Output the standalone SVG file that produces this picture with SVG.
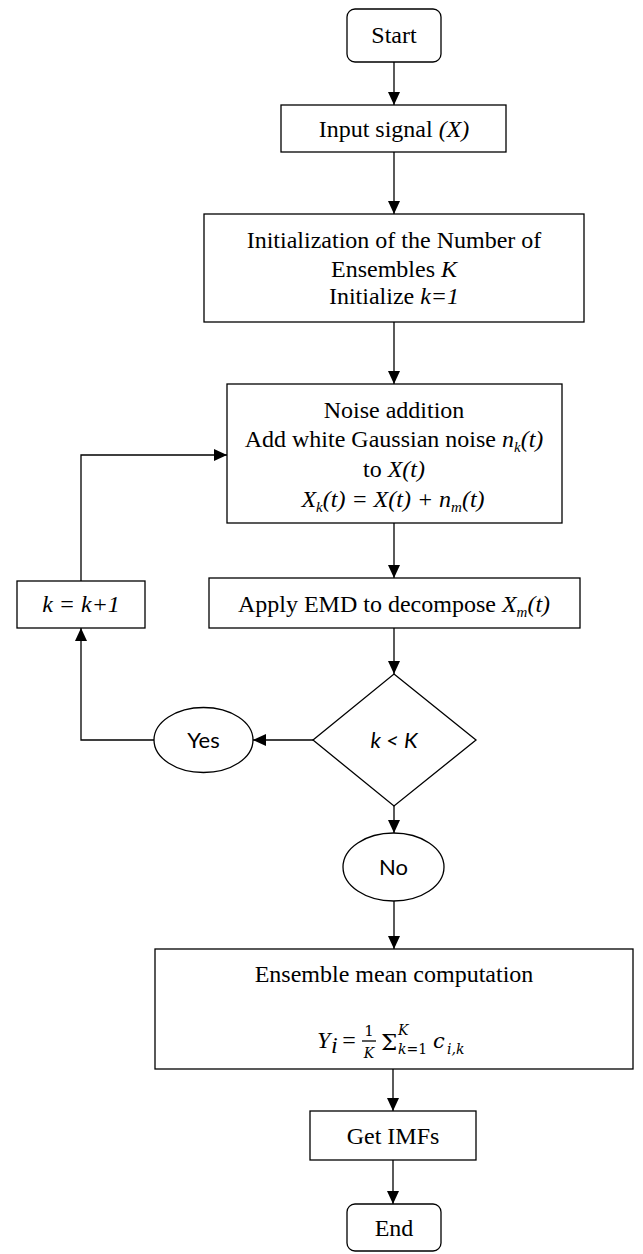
<svg xmlns="http://www.w3.org/2000/svg" width="643" height="1254" viewBox="0 0 643 1254">
<style>
.box{fill:#fff;stroke:#000;stroke-width:1.3}
.ser{font-family:"Liberation Serif","Times New Roman",serif;font-size:24px;fill:#000}
.it{font-style:italic}
.sans{font-family:Lato,"Open Sans","Liberation Sans",sans-serif;font-size:22px;fill:#000}
.mth{font-family:"DejaVu Serif","Liberation Serif",serif;fill:#000}
.con{fill:none;stroke:#000;stroke-width:1.3;marker-end:url(#ah)}
</style>
<defs>
<marker id="ah" markerUnits="userSpaceOnUse" markerWidth="13" markerHeight="12" viewBox="0 0 13 12" refX="13" refY="6" orient="auto">
<path d="M0,0 L13,6 L0,12 z" fill="#000"/>
</marker>
</defs>
<rect width="643" height="1254" fill="#fff"/>
<g id="connectors">
<path class="con" d="M394,62 V105"/>
<path class="con" d="M394,152 V214"/>
<path class="con" d="M394,322 V384"/>
<path class="con" d="M394,523 V578"/>
<path class="con" d="M394,628 V674"/>
<path class="con" d="M313,740 H253"/>
<path class="con" d="M154,740 H81 V628"/>
<path class="con" d="M81,581 V455 H227"/>
<path class="con" d="M394,806 V833"/>
<path class="con" d="M394,901 V949"/>
<path class="con" d="M393,1069 V1111"/>
<path class="con" d="M393,1160 V1204"/>
</g>
<g id="start">
<rect class="box" x="347" y="9" width="94" height="53" rx="8"/>
<text class="ser" x="394" y="43" text-anchor="middle">Start</text>
</g>
<g id="input">
<rect class="box" x="281" y="105" width="225" height="47"/>
<text class="ser" x="394" y="137" text-anchor="middle">Input signal <tspan class="it">(X)</tspan></text>
</g>
<g id="init">
<rect class="box" x="204" y="214" width="380" height="108"/>
<text class="ser" x="394" y="248" text-anchor="middle">Initialization of the Number of</text>
<text class="ser" x="394" y="277" text-anchor="middle">Ensembles <tspan class="it">K</tspan></text>
<text class="ser" x="394" y="304" text-anchor="middle">Initialize <tspan class="it">k=1</tspan></text>
</g>
<g id="noise">
<rect class="box" x="227" y="384" width="335" height="139"/>
<text class="ser" x="394" y="418" text-anchor="middle">Noise addition</text>
<text class="ser" x="394" y="447" text-anchor="middle">Add white Gaussian noise <tspan class="it">n</tspan><tspan class="it" font-size="15" dy="5">k</tspan><tspan class="it" dy="-5">(t)</tspan></text>
<text class="ser" x="394" y="477" text-anchor="middle">to <tspan class="it">X(t)</tspan></text>
<text class="ser it" x="393" y="507" text-anchor="middle">X<tspan font-size="15" dy="5">k</tspan><tspan dy="-5">(t) = X(t) + n</tspan><tspan font-size="15" dy="5">m</tspan><tspan dy="-5">(t)</tspan></text>
</g>
<g id="emd">
<rect class="box" x="209" y="578" width="371" height="50"/>
<text class="ser" x="394" y="612" text-anchor="middle">Apply EMD to decompose <tspan class="it">X</tspan><tspan class="it" font-size="15" dy="5">m</tspan><tspan class="it" dy="-5">(t)</tspan></text>
</g>
<g id="inc">
<rect class="box" x="17" y="581" width="128" height="47"/>
<text class="ser it" x="81" y="612" text-anchor="middle">k = k+1</text>
</g>
<g id="decision">
<polygon class="box" points="394,674 476,740 394,806 313,740"/>
<text class="sans it" x="394" y="748" text-anchor="middle">k &lt; K</text>
</g>
<g id="yes">
<ellipse class="box" cx="203.5" cy="740" rx="49.5" ry="32.5"/>
<text class="sans" x="203.5" y="748" text-anchor="middle">Yes</text>
</g>
<g id="no">
<ellipse class="box" cx="393.5" cy="867" rx="50.5" ry="34"/>
<text class="sans" x="393.5" y="875" text-anchor="middle">No</text>
</g>
<g id="mean">
<rect class="box" x="155" y="949" width="478" height="120"/>
<text class="ser" x="394" y="982" text-anchor="middle">Ensemble mean computation</text>
<text class="ser it" x="317" y="1048">Y</text>
<text class="ser it" x="331" y="1053" font-size="14">i</text>
<text class="ser" x="349" y="1048" text-anchor="middle">=</text>
<text class="mth" x="369" y="1036" font-size="15" text-anchor="middle">1</text>
<line x1="362" y1="1041" x2="376" y2="1041" stroke="#000" stroke-width="1.3"/>
<text class="mth it" x="369" y="1058" font-size="14" text-anchor="middle">K</text>
<text class="mth" x="381" y="1050" font-size="23">Σ</text>
<text class="mth it" x="398" y="1035" font-size="14">K</text>
<text class="mth" x="398" y="1054" font-size="14"><tspan class="it">k</tspan>=1</text>
<text class="mth it" x="433" y="1048" font-size="21">c</text>
<text class="mth it" x="447" y="1054" font-size="14">i,k</text>
</g>
<g id="imfs">
<rect class="box" x="310" y="1111" width="166" height="49"/>
<text class="ser" x="393" y="1144" text-anchor="middle">Get IMFs</text>
</g>
<g id="end">
<rect class="box" x="347" y="1204" width="94" height="47" rx="8"/>
<text class="ser" x="394" y="1236" text-anchor="middle">End</text>
</g>
</svg>
